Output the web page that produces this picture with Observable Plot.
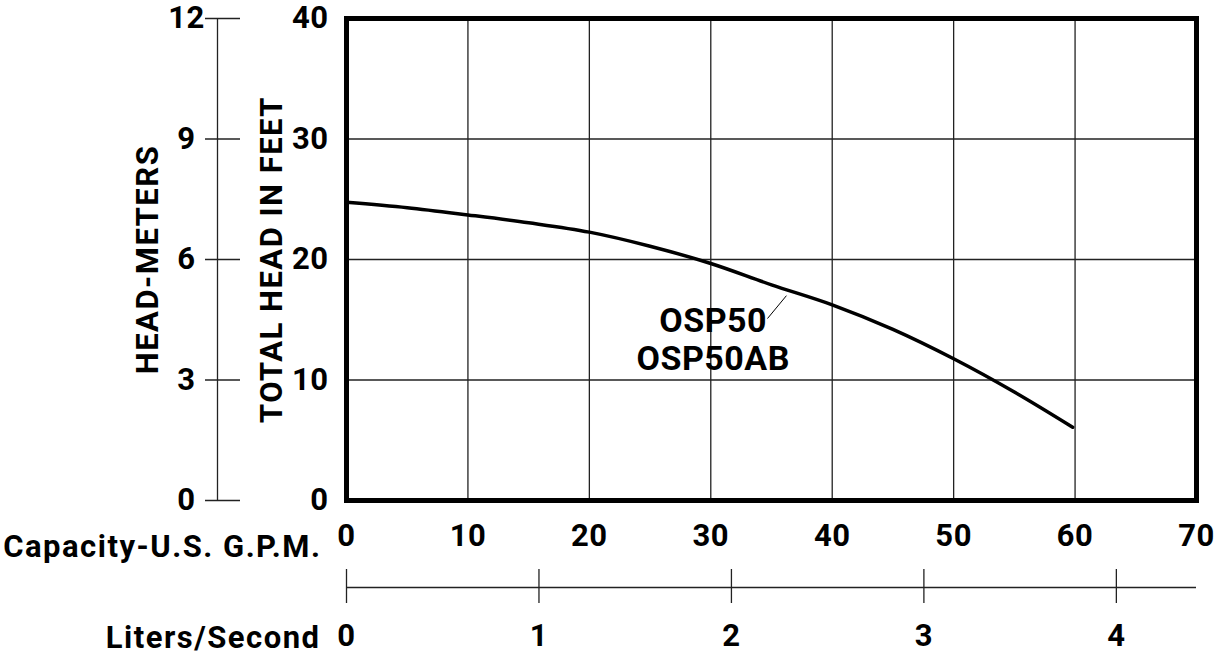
<!DOCTYPE html>
<html><head><meta charset="utf-8">
<script src="https://cdn.jsdelivr.net/npm/d3@7"></script>
<script src="https://cdn.jsdelivr.net/npm/@observablehq/plot@0.6"></script>
<style>
html,body{margin:0;padding:0;background:#fff;}
#chart{position:relative;width:1222px;height:656px;}
#chart svg{position:absolute;left:0;top:0;}
</style></head><body><div id="chart"></div>
<script>
// ---- data ----
const gpmTicks = [0, 10, 20, 30, 40, 50, 60, 70];
const feetTicks = [0, 10, 20, 30, 40];
const meterTicks = [0, 3, 6, 9, 12];
const lpsTicks = [0, 1, 2, 3, 4];
const curveGpm  = [0, 5, 10, 15, 20, 25, 30, 35, 40, 45, 50, 55, 59.8];
const curveFeet = [24.75, 24.3, 23.7, 23.05, 22.27, 21.1, 19.67, 17.9, 16.24, 14.2, 11.76, 9.0, 6.08];
const curveLabel = ["OSP50", "OSP50AB"];
const labelAt = {gpm: 30.2, feet: 13.44};
const leader = {gpm1: 34.67, feet1: 15.1, gpm2: 36.23, feet2: 17.0};
const GPM_PER_LPS = 15.85;

const W = 1222, H = 656;
const font = {fontFamily: "Roboto, 'DejaVu Sans', sans-serif", fontWeight: "700", fontSize: "31px", letterSpacing: "0.5px", color: "#000", background: "transparent"};
const curve = curveGpm.map((x, i) => ({x, y: curveFeet[i]}));
const el = document.getElementById("chart");

const main = Plot.plot({
  width: W, height: H, marginTop: 18, marginBottom: 156, marginLeft: 346, marginRight: 26,
  x: {domain: [0, 70]}, y: {domain: [0, 40]}, style: font,
  marks: [
    Plot.ruleX(gpmTicks.filter(d => d > 0 && d < 70), {stroke: "#222", strokeWidth: 1.3}),
    Plot.ruleY(feetTicks.filter(d => d > 0 && d < 40), {stroke: "#222", strokeWidth: 1.3}),
    Plot.line(curve, {x: "x", y: "y", curve: "catmull-rom", stroke: "#000", strokeWidth: 3.5}),
    Plot.frame({stroke: "#000", strokeWidth: 5}),
    Plot.axisY({ticks: feetTicks, tickSize: 0, tickPadding: 18, label: null, tickFormat: d => String(d)}),
    Plot.axisX({ticks: gpmTicks, tickSize: 0, tickPadding: 23, label: null, tickFormat: d => String(d)}),
    Plot.text(["TOTAL HEAD IN FEET"], {frameAnchor: "left", dx: -74, rotate: -90, textAnchor: "middle", lineAnchor: "middle"}),
    Plot.text(["Capacity-U.S. G.P.M."], {frameAnchor: "bottom-left", dx: -25, dy: 47, textAnchor: "end", lineAnchor: "middle"}),
    Plot.text([curveLabel.join("\n")], {x: labelAt.gpm, y: labelAt.feet, fontSize: 34, lineHeight: 1.11, lineAnchor: "middle"}),
    Plot.link([leader], {x1: "gpm1", y1: "feet1", x2: "gpm2", y2: "feet2", stroke: "#000", strokeWidth: 1})
  ]
});
el.appendChild(main);

const meters = Plot.plot({
  width: W, height: H, marginTop: 18, marginBottom: 156, marginLeft: 205, marginRight: W - 240,
  x: {domain: [0, 1], axis: null}, y: {domain: [0, 12], axis: null}, style: font,
  marks: [
    Plot.tickY(meterTicks, {y: d => d, stroke: "#222", strokeWidth: 1.3}),
    Plot.ruleX([0], {dx: 12, stroke: "#222", strokeWidth: 1.3}),
    Plot.text(meterTicks, {y: d => d, text: d => String(d), frameAnchor: "left", dx: -19, textAnchor: "middle", lineAnchor: "middle"}),
    Plot.text(["HEAD-METERS"], {frameAnchor: "left", dx: -57, rotate: -90, textAnchor: "middle", lineAnchor: "middle"})
  ]
});
el.appendChild(meters);

const lps = Plot.plot({
  width: W, height: H, marginTop: 569, marginBottom: H - 603, marginLeft: 346, marginRight: 26,
  x: {domain: [0, 70 / GPM_PER_LPS], axis: null}, y: {domain: [0, 1], axis: null}, style: font,
  marks: [
    Plot.tickX(lpsTicks, {x: d => d, stroke: "#222", strokeWidth: 1.3}),
    Plot.ruleY([0], {dy: -16, stroke: "#222", strokeWidth: 1.3}),
    Plot.text(lpsTicks, {x: d => d, text: d => String(d), frameAnchor: "bottom", dy: 33, textAnchor: "middle", lineAnchor: "middle"}),
    Plot.text(["Liters/Second"], {frameAnchor: "bottom-left", dx: -26, dy: 35, textAnchor: "end", lineAnchor: "middle"})
  ]
});
el.appendChild(lps);

// wider tracking for the long titles, as in the reference lettering
d3.selectAll("#chart text").each(function() {
  const t = this.textContent;
  if (/HEAD|Capacity|Liters/.test(t)) this.setAttribute("letter-spacing", "1.5px");
});
</script></body></html>
